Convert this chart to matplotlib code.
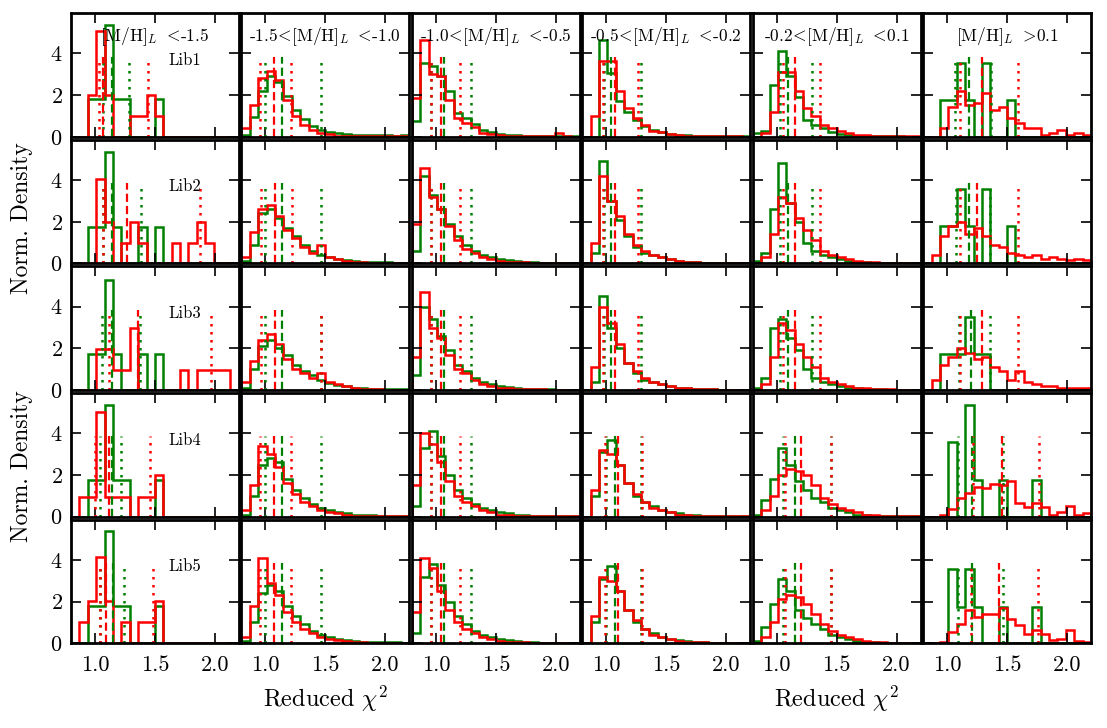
import numpy as np
import matplotlib
matplotlib.use("Agg")
import matplotlib.pyplot as plt

plt.rcParams['font.family'] = 'cmr10'
plt.rcParams['mathtext.fontset'] = 'cm'
plt.rcParams['axes.formatter.use_mathtext'] = True
plt.rcParams['axes.unicode_minus'] = False

# bin edges of the reduced chi^2 histograms
edges = [0.80, 0.87, 0.94, 1.01, 1.08, 1.15, 1.22, 1.29, 1.36, 1.43, 1.50,
         1.57, 1.64, 1.71, 1.78, 1.85, 1.92, 1.99, 2.06, 2.13, 2.20]

titles = [r'[M/H]$_L$ $<\!$-1.5', r'-1.5$\!<\!$[M/H]$_L$ $<\!$-1.0', r'-1.0$\!<\!$[M/H]$_L$ $<\!$-0.5',
          r'-0.5$\!<\!$[M/H]$_L$ $<\!$-0.2', r'-0.2$\!<\!$[M/H]$_L$ $<\!$0.1', r'[M/H]$_L$ $>\!$0.1']
libs = ['Lib1', 'Lib2', 'Lib3', 'Lib4', 'Lib5']

# green histograms, one list per metallicity bin, per library
green_lib1 = [
    [0, 0, 1.8, 1.8, 5.35, 1.8, 1.8, 0, 0, 0, 1.8, 0, 0, 0, 0, 0, 0, 0, 0, 0],
    [0.1, 0.95, 2.2, 2.9, 2.65, 1.95, 1.3, 0.85, 0.5, 0.35, 0.22, 0.18, 0.12, 0.1, 0.08, 0.08, 0.1, 0.1, 0.05, 0.1],
    [0.75, 3.55, 3.4, 2.9, 2.2, 1.15, 0.9, 0.6, 0.35, 0.25, 0.15, 0.1, 0.1, 0.05, 0.05, 0.03, 0.03, 0.03, 0.02, 0.02],
    [0, 0, 4.66, 3.05, 1.7, 1.2, 0.8, 0.5, 0.35, 0.25, 0.15, 0.1, 0.08, 0.05, 0.05, 0.03, 0.03, 0.02, 0.02, 0.02],
    [0.16, 0.3, 2.5, 4.1, 2.9, 1.9, 0.8, 0.55, 0.4, 0.25, 0.12, 0.08, 0.05, 0.05, 0.03, 0.02, 0.02, 0.02, 0.01, 0.01],
    [0, 0, 1.78, 1.78, 3.55, 1.78, 0, 3.55, 0, 0, 1.78, 0, 0, 0, 0, 0, 0, 0, 0, 0],
]
green_lib2 = [
    [0, 0, 1.73, 1.73, 5.33, 1.73, 0, 0, 1.73, 0, 1.73, 0, 0, 0, 0, 0, 0, 0, 0, 0],
    [0.1, 0.9, 2.4, 2.6, 2.2, 1.7, 1.3, 0.9, 0.6, 0.4, 0.3, 0.2, 0.15, 0.1, 0.08, 0.06, 0.05, 0.05, 0.04, 0.04],
    [0.6, 4.2, 3.3, 2.6, 1.9, 1.3, 0.9, 0.6, 0.4, 0.3, 0.2, 0.15, 0.1, 0.06, 0.05, 0.03, 0.03, 0.02, 0.02, 0.02],
    [0, 0.5, 4.9, 3.0, 2.1, 1.3, 0.8, 0.5, 0.4, 0.3, 0.2, 0.1, 0.08, 0.05, 0.04, 0.03, 0.02, 0.02, 0.02, 0.01],
    [0.1, 0.5, 2.6, 4.8, 2.9, 2.0, 1.0, 0.6, 0.4, 0.3, 0.2, 0.1, 0.08, 0.05, 0.04, 0.03, 0.02, 0.02, 0.02, 0.01],
    [0, 0, 1.78, 1.78, 3.55, 1.78, 0, 3.55, 0, 0, 1.78, 0, 0, 0, 0, 0, 0, 0, 0, 0],
]
green_lib3 = [
    [0, 0, 1.74, 1.74, 5.3, 1.74, 0, 0, 1.74, 0, 1.74, 0, 0, 0, 0, 0, 0, 0, 0, 0],
    [0.1, 1.0, 2.1, 2.4, 2.0, 1.7, 1.2, 0.9, 0.7, 0.5, 0.35, 0.25, 0.2, 0.1, 0.08, 0.06, 0.05, 0.04, 0.04, 0.03],
    [0.7, 4.0, 3.4, 2.6, 1.9, 1.2, 0.9, 0.6, 0.4, 0.3, 0.2, 0.15, 0.1, 0.06, 0.05, 0.03, 0.03, 0.02, 0.02, 0.02],
    [0, 0.4, 4.5, 3.0, 2.0, 1.3, 0.8, 0.5, 0.4, 0.3, 0.2, 0.1, 0.08, 0.05, 0.04, 0.03, 0.02, 0.02, 0.02, 0.01],
    [0.1, 0.6, 3.0, 3.4, 2.5, 1.9, 1.0, 0.6, 0.4, 0.3, 0.2, 0.1, 0.08, 0.05, 0.04, 0.03, 0.02, 0.02, 0.02, 0.01],
    [0, 0, 1.75, 1.75, 1.75, 3.5, 1.75, 1.75, 0, 0, 0, 0, 0, 0, 0, 0, 0, 0, 0, 0],
]
green_lib4 = [
    [0, 0, 1.76, 1.76, 5.36, 1.76, 1.76, 0, 0, 0, 1.76, 0, 0, 0, 0, 0, 0, 0, 0, 0],
    [0.1, 1.0, 2.5, 2.8, 2.6, 1.8, 1.3, 0.9, 0.6, 0.4, 0.3, 0.2, 0.15, 0.1, 0.08, 0.06, 0.05, 0.04, 0.04, 0.03],
    [0.5, 3.3, 4.1, 2.9, 2.0, 1.3, 0.9, 0.6, 0.4, 0.3, 0.2, 0.15, 0.1, 0.06, 0.05, 0.03, 0.03, 0.02, 0.02, 0.02],
    [0, 1.0, 3.1, 3.7, 2.5, 1.6, 1.0, 0.7, 0.5, 0.3, 0.2, 0.15, 0.1, 0.06, 0.05, 0.03, 0.02, 0.02, 0.02, 0.01],
    [0.1, 0.8, 1.8, 3.3, 2.5, 1.7, 1.3, 0.9, 0.7, 0.4, 0.3, 0.2, 0.1, 0.06, 0.05, 0.03, 0.02, 0.02, 0.02, 0.01],
    [0, 0, 0, 3.57, 0, 5.36, 1.76, 0, 0, 1.76, 0, 0, 0, 1.76, 0, 0, 0, 0, 0, 0],
]
green_lib5 = [
    [0, 0, 1.8, 1.8, 5.4, 1.8, 1.8, 0, 0, 0, 1.8, 0, 0, 0, 0, 0, 0, 0, 0, 0],
    [0.1, 1.0, 2.4, 2.8, 2.5, 1.8, 1.3, 0.9, 0.6, 0.4, 0.3, 0.2, 0.15, 0.1, 0.08, 0.06, 0.05, 0.04, 0.04, 0.03],
    [0.5, 3.2, 3.8, 2.8, 2.0, 1.3, 0.9, 0.6, 0.4, 0.3, 0.2, 0.15, 0.1, 0.06, 0.05, 0.03, 0.03, 0.02, 0.02, 0.02],
    [0, 1.0, 3.1, 3.7, 2.5, 1.6, 1.0, 0.7, 0.5, 0.3, 0.2, 0.15, 0.1, 0.06, 0.05, 0.03, 0.02, 0.02, 0.02, 0.01],
    [0.1, 0.8, 1.9, 3.1, 2.5, 1.6, 1.2, 0.9, 0.7, 0.4, 0.3, 0.2, 0.1, 0.06, 0.05, 0.03, 0.02, 0.02, 0.02, 0.01],
    [0, 0, 0, 3.55, 1.74, 3.55, 1.74, 0, 0, 1.74, 0, 0, 0, 1.74, 0, 0, 0, 0, 0, 0],
]

# red histograms
red_lib1 = [
    [0, 0, 2.0, 5.1, 2.0, 0, 0, 1.0, 1.0, 2.0, 1.0, 0, 0, 0, 0, 0, 0, 0, 0, 0],
    [0.42, 1.54, 2.83, 3.18, 2.75, 1.78, 1.0, 0.55, 0.35, 0.2, 0.15, 0.05, 0.03, 0.03, 0.03, 0.02, 0.02, 0.02, 0.02, 0.02],
    [1.85, 4.66, 3.0, 2.9, 1.75, 0.9, 0.65, 0.45, 0.2, 0.15, 0.1, 0.05, 0.05, 0.05, 0.03, 0.03, 0.03, 0.16, 0.02, 0],
    [0, 0.98, 3.63, 3.63, 2.2, 1.4, 0.9, 0.55, 0.3, 0.25, 0.15, 0.1, 0.05, 0.05, 0.03, 0.03, 0.02, 0.02, 0.02, 0],
    [0, 0.16, 1.2, 3.1, 3.1, 2.2, 1.37, 1.0, 0.58, 0.4, 0.3, 0.2, 0.1, 0.08, 0.05, 0.05, 0.03, 0.03, 0.02, 0.02],
    [0, 0, 0.4, 1.45, 2.2, 1.55, 1.62, 2.1, 1.3, 1.45, 0.9, 0.65, 0.4, 0.4, 0.1, 0.2, 0.35, 0.1, 0.2, 0.1],
]
red_lib2 = [
    [0, 0, 0, 4.05, 2.0, 0, 0.96, 2.0, 0.96, 0, 0, 0, 0.96, 0, 0.96, 2.0, 0.96, 0, 0, 0],
    [0.3, 1.5, 2.6, 2.8, 2.3, 1.6, 1.2, 0.8, 0.5, 0.9, 0.3, 0.2, 0.1, 0.05, 0.05, 0.03, 0.02, 0.02, 0.02, 0.02],
    [1.9, 4.6, 3.2, 2.6, 1.8, 1.1, 0.7, 0.5, 0.3, 0.2, 0.1, 0.08, 0.05, 0.05, 0.03, 0.03, 0.02, 0.02, 0.02, 0.01],
    [0, 1.0, 4.2, 3.0, 2.3, 1.4, 0.9, 0.6, 0.4, 0.3, 0.2, 0.1, 0.08, 0.05, 0.04, 0.03, 0.02, 0.02, 0.02, 0.01],
    [0, 0.3, 1.4, 3.2, 2.9, 2.2, 1.6, 1.1, 0.6, 0.4, 0.3, 0.2, 0.1, 0.08, 0.05, 0.04, 0.03, 0.02, 0.02, 0.01],
    [0, 0.4, 1.3, 1.8, 2.0, 1.4, 1.7, 1.3, 0.9, 0.8, 0.5, 0.4, 0.3, 0.4, 0.2, 0.3, 0.2, 0.15, 0.2, 0.15],
]
red_lib3 = [
    [0, 0, 0, 1.98, 1.98, 0.94, 0.94, 3.0, 0, 0, 0, 0, 0, 0.94, 0, 0.94, 0.94, 0.94, 0.94, 0],
    [0.4, 1.4, 2.4, 2.7, 2.2, 1.5, 1.0, 0.8, 0.6, 0.8, 0.4, 0.3, 0.2, 0.1, 0.05, 0.04, 0.03, 0.02, 0.02, 0.02],
    [1.6, 4.7, 3.0, 2.5, 1.7, 1.0, 0.8, 0.5, 0.3, 0.2, 0.1, 0.08, 0.05, 0.05, 0.03, 0.03, 0.02, 0.02, 0.02, 0.01],
    [0, 1.1, 4.0, 3.2, 2.2, 1.3, 0.9, 0.6, 0.4, 0.3, 0.2, 0.1, 0.08, 0.05, 0.04, 0.03, 0.02, 0.02, 0.02, 0.01],
    [0, 0.3, 1.6, 3.2, 2.9, 2.2, 1.6, 1.1, 0.6, 0.4, 0.3, 0.2, 0.1, 0.08, 0.05, 0.04, 0.03, 0.02, 0.02, 0.01],
    [0, 0.5, 1.2, 1.6, 2.0, 1.8, 1.5, 1.6, 1.1, 0.9, 0.5, 0.9, 0.4, 0.3, 0.2, 0.2, 0.1, 0.1, 0.1, 0.1],
]
red_lib4 = [
    [0, 0.96, 0.96, 5.04, 0.96, 0.96, 0.96, 0, 0.96, 0.96, 2.0, 0, 0, 0, 0, 0, 0, 0, 0, 0],
    [0.3, 1.5, 3.4, 3.0, 2.4, 1.6, 1.1, 0.7, 0.5, 0.3, 0.2, 0.15, 0.1, 0.05, 0.05, 0.03, 0.02, 0.02, 0.02, 0.02],
    [1.5, 4.0, 3.5, 2.6, 1.7, 1.0, 0.7, 0.5, 0.3, 0.2, 0.1, 0.08, 0.05, 0.05, 0.03, 0.03, 0.02, 0.02, 0.02, 0.01],
    [0, 1.3, 3.2, 3.0, 2.5, 1.6, 1.1, 0.7, 0.4, 0.3, 0.2, 0.1, 0.08, 0.05, 0.04, 0.03, 0.02, 0.02, 0.02, 0.01],
    [0, 0.3, 1.0, 2.0, 2.3, 2.2, 2.0, 1.5, 0.9, 0.6, 0.4, 0.3, 0.2, 0.1, 0.08, 0.05, 0.03, 0.02, 0.02, 0.01],
    [0, 0, 0.08, 0.37, 0.9, 1.12, 1.44, 1.36, 1.55, 1.52, 1.73, 0.64, 0.48, 0.64, 0.48, 0.08, 0.24, 0.53, 0.08, 0.16],
]
red_lib5 = [
    [0, 1.04, 2.05, 4.13, 2.05, 0, 1.04, 0, 1.04, 1.04, 2.05, 0, 0, 0, 0, 0, 0, 0, 0, 0],
    [0.3, 1.8, 4.1, 2.9, 2.3, 1.5, 1.0, 0.7, 0.5, 0.3, 0.2, 0.15, 0.1, 0.05, 0.05, 0.03, 0.02, 0.02, 0.02, 0.02],
    [1.5, 4.1, 3.6, 2.5, 1.6, 1.0, 0.7, 0.5, 0.3, 0.2, 0.1, 0.08, 0.05, 0.05, 0.03, 0.03, 0.02, 0.02, 0.02, 0.01],
    [0, 1.3, 3.2, 3.0, 2.5, 1.6, 1.1, 0.7, 0.4, 0.3, 0.2, 0.1, 0.08, 0.05, 0.04, 0.03, 0.02, 0.02, 0.02, 0.01],
    [0, 0.3, 1.0, 2.1, 2.3, 2.2, 1.9, 1.4, 0.9, 0.6, 0.4, 0.3, 0.2, 0.1, 0.08, 0.05, 0.03, 0.02, 0.02, 0.01],
    [0, 0, 0.06, 0.54, 0.94, 1.58, 1.26, 1.42, 1.38, 1.7, 1.18, 0.86, 0.46, 0.62, 0.46, 0.14, 0.22, 0.62, 0.1, 0.06],
]

# (median, lower, upper) markers: dashed at median, dotted at the others
green_marks = [
    [(1.143, 1.067, 1.283), (1.137, 0.996, 1.466), (1.072, 0.96, 1.297), (1.042, 0.98, 1.29), (1.097, 1.03, 1.294), (1.18, 1.068, 1.363)],
    [(1.143, 1.067, 1.381), (1.137, 1.0, 1.466), (1.072, 0.96, 1.297), (1.042, 0.98, 1.29), (1.097, 1.03, 1.294), (1.18, 1.07, 1.36)],
    [(1.143, 1.06, 1.378), (1.137, 1.0, 1.466), (1.072, 0.96, 1.297), (1.042, 0.98, 1.29), (1.097, 1.03, 1.294), (1.2, 1.1, 1.36)],
    [(1.143, 1.045, 1.22), (1.137, 1.0, 1.466), (1.072, 0.96, 1.297), (1.07, 1.0, 1.29), (1.15, 1.05, 1.45), (1.209, 1.09, 1.47)],
    [(1.151, 1.039, 1.246), (1.137, 1.0, 1.466), (1.072, 0.96, 1.297), (1.07, 1.0, 1.29), (1.15, 1.05, 1.45), (1.209, 1.09, 1.47)],
]
red_marks = [
    [(1.067, 1.03, 1.443), (1.072, 0.954, 1.213), (1.047, 0.96, 1.202), (1.07, 0.972, 1.261), (1.153, 1.055, 1.364), (1.287, 1.11, 1.588)],
    [(1.269, 1.067, 1.873), (1.08, 0.96, 1.22), (1.047, 0.96, 1.202), (1.07, 0.972, 1.261), (1.153, 1.055, 1.364), (1.25, 1.11, 1.59)],
    [(1.362, 1.114, 1.965), (1.08, 0.96, 1.466), (1.047, 0.96, 1.202), (1.07, 0.972, 1.261), (1.153, 1.055, 1.364), (1.29, 1.11, 1.59)],
    [(1.114, 1.0, 1.46), (1.072, 0.954, 1.213), (1.047, 0.96, 1.202), (1.1, 0.99, 1.3), (1.2, 1.07, 1.45), (1.455, 1.214, 1.77)],
    [(1.095, 1.039, 1.48), (1.072, 0.954, 1.213), (1.047, 0.96, 1.202), (1.1, 0.99, 1.3), (1.2, 1.07, 1.45), (1.43, 1.2, 1.76)],
]

greens = [green_lib1, green_lib2, green_lib3, green_lib4, green_lib5]
reds = [red_lib1, red_lib2, red_lib3, red_lib4, red_lib5]

W, H = 1107, 728
fig = plt.figure(figsize=(W / 100, H / 100), dpi=100)
gs = fig.add_gridspec(5, 6, left=71 / W, right=1091 / W, top=1 - 13.3 / H,
                      bottom=1 - 643.2 / H, wspace=0.0155, hspace=0.025)

for r in range(5):
    for c in range(6):
        ax = fig.add_subplot(gs[r, c])
        for col, mk in (('green', green_marks[r][c]), ('red', red_marks[r][c])):
            ax.vlines(mk[0], 0, 3.85, colors=col, linestyles=(0, (3.7, 1.8)), lw=1.6)
            ax.vlines(mk[1:], 0, 3.85, colors=col, linestyles=(0, (1, 2.2)), lw=1.8)
        ax.stairs(greens[r][c], edges, baseline=0, color='green', lw=1.8)
        ax.stairs(reds[r][c], edges, baseline=0, color='red', lw=1.8)
        ax.set_xlim(0.8, 2.2)
        ax.set_ylim(0, 5.93)
        ax.set_xticks([1.0, 1.5, 2.0])
        ax.set_yticks([0, 2, 4])
        ax.tick_params(direction='in', top=True, right=True, length=7, width=1.2,
                       labelsize=16)
        ax.tick_params(axis='x', pad=9)
        ax.tick_params(axis='y', pad=6)
        for s in ax.spines.values():
            s.set_linewidth(2)
        if r < 4:
            ax.set_xticklabels([])
        else:
            ax.xaxis.set_major_formatter(plt.FormatStrFormatter('%.1f'))
        if c > 0:
            ax.set_yticklabels([])
        if r == 0:
            ax.text(0.5, 0.81, titles[c], transform=ax.transAxes, ha='center',
                    va='center', fontsize=12.5)
        if c == 0:
            ax.text(0.68, 0.62, libs[r], transform=ax.transAxes, ha='center',
                    va='center', fontsize=12)
        if r == 4 and c in (1, 4):
            ax.set_xlabel(r'Reduced $\chi^2$', fontsize=17.5, labelpad=6)

fig.text(22 / W, 1 - 218 / H, 'Norm. Density', rotation=90, ha='center', va='center', fontsize=17)
fig.text(22 / W, 1 - 466 / H, 'Norm. Density', rotation=90, ha='center', va='center', fontsize=17)

fig.savefig('out.png', dpi=100)
